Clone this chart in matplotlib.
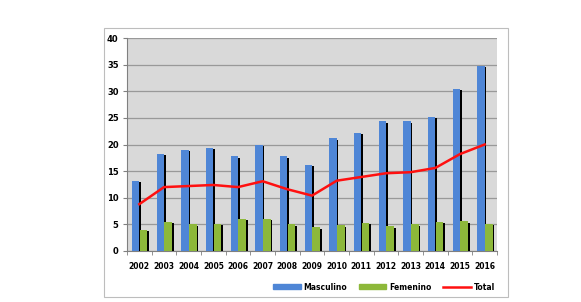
import matplotlib.pyplot as plt
import matplotlib.patches as mpatches
from matplotlib.lines import Line2D
import numpy as np

years = ['2002', '2003', '2004', '2005', '2006', '2007', '2008', '2009',
         '2010', '2011', '2012', '2013', '2014', '2015', '2016']
masculino = [13.2, 18.3, 19.0, 19.4, 17.8, 20.0, 17.8, 16.2,
             21.2, 22.2, 24.4, 24.4, 25.2, 30.5, 34.8]
femenino = [4.0, 5.5, 5.0, 5.1, 6.1, 6.1, 5.0, 4.5,
            4.8, 5.3, 4.7, 5.0, 5.5, 5.6, 5.1]
total = [8.8, 12.0, 12.2, 12.4, 12.0, 13.1, 11.6, 10.4,
         13.2, 13.9, 14.6, 14.8, 15.6, 18.2, 20.0]

blue = '#4F86D6'
green = '#8DB83A'

fig = plt.figure(figsize=(5.81, 3.02), dpi=100)
fig.patch.set_facecolor('white')

# outer chart frame
fig.patches.append(mpatches.Rectangle((104 / 581, 1 - 297 / 302), 404 / 581, 269 / 302,
                                      transform=fig.transFigure, fill=False,
                                      edgecolor='#BDBDBD', linewidth=0.8))

ax = fig.add_axes([127 / 581, 1 - 251 / 302, 370 / 581, 213 / 302])
ax.set_facecolor('#D9D9D9')

x = np.arange(len(years))
w = 0.3
sh = 0.07
ax.bar(x - w / 2, masculino, w, color=blue, zorder=3)
ax.bar(x + sh / 2, np.array(masculino) - 0.3, sh, color='black', zorder=2.9)
ax.bar(x + w / 2 + 0.02, femenino, w, color=green, zorder=3)
ax.bar(x + w + sh / 2 + 0.02, np.array(femenino) - 0.3, sh, color='black', zorder=2.9)
ax.plot(x, total, color='#FF1010', linewidth=1.8, zorder=4)

ax.set_xlim(-0.5, len(years) - 0.5)
ax.set_ylim(0, 40)
ax.set_yticks(range(0, 41, 5))
ax.yaxis.grid(True, color='#999999', linewidth=0.9, zorder=0)
ax.set_axisbelow(True)

ax.set_xticks(x)
ax.set_xticklabels(years)
ax.set_xticks(np.arange(-0.5, len(years), 1), minor=True)
ax.tick_params(axis='x', which='major', length=0, pad=8)
ax.tick_params(axis='x', which='minor', length=3, color='#808080')
ax.tick_params(axis='y', length=3, color='#808080', pad=3)
for lab in ax.get_xticklabels():
    lab.set_fontsize(5.5)
    lab.set_fontweight('bold')
for lab in ax.get_yticklabels():
    lab.set_fontsize(6)
    lab.set_fontweight('bold')

for s in ['top', 'right']:
    ax.spines[s].set_visible(False)
ax.spines['left'].set_color('#808080')
ax.spines['bottom'].set_color('#808080')

handles = [mpatches.Patch(color=blue, label='Masculino'),
           mpatches.Patch(color=green, label='Femenino'),
           Line2D([0], [0], color='#FF1010', linewidth=1.8, label='Total')]
fig.legend(handles=handles, loc='center right', bbox_to_anchor=(502 / 581, 1 - 287 / 302),
           ncol=3, frameon=False, prop={'size': 5.5, 'weight': 'bold'},
           handlelength=3.6, handleheight=0.6, columnspacing=1.5, handletextpad=0.4)

fig.savefig('out.png', dpi=100)
